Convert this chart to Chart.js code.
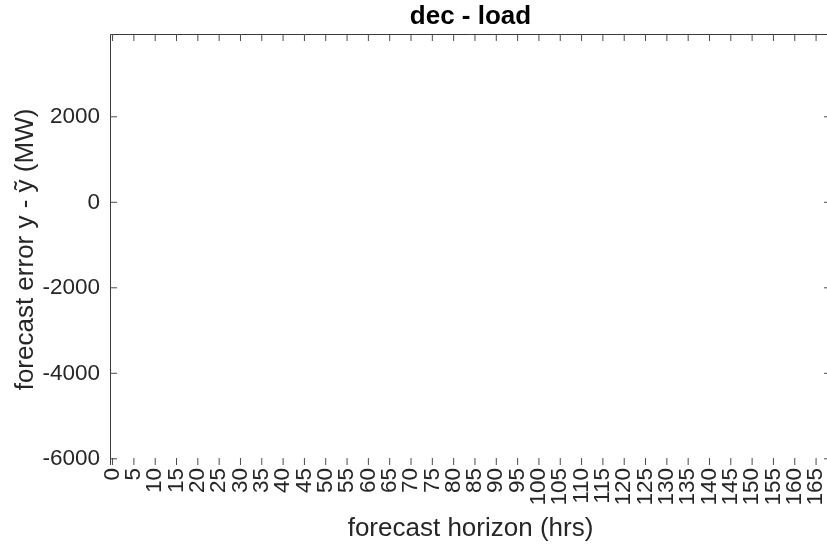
<!DOCTYPE html>
<html>
<head>
<meta charset="utf-8">
<title>dec - load</title>
<script src="https://cdn.jsdelivr.net/npm/chart.js@4.4.1/dist/chart.umd.min.js"></script>
<style>
  html, body { margin: 0; padding: 0; background: #ffffff; }
  #wrap { width: 827px; height: 544px; overflow: hidden; position: relative; }
  #chart { display: block; }
</style>
</head>
<body>
<div id="wrap"><canvas id="chart" width="831" height="544"></canvas></div>
<script>
// Forecast horizon (hours) and forecast error series: no samples plotted for this month.
const horizonHrs = [];
const forecastError = [];

// Axis tick positions
const xTickValues = [0, 5, 10, 15, 20, 25, 30, 35, 40, 45, 50, 55, 60, 65, 70, 75, 80,
  85, 90, 95, 100, 105, 110, 115, 120, 125, 130, 135, 140, 145, 150, 155, 160, 165];
const yTickValues = [-6000, -4000, -2000, 0, 2000];

// Axis limits
const xLimits = [-0.6, 168.5];
const yLimits = [-6145, 3937];

const FONT = "'Liberation Sans', Arial, Helvetica, sans-serif";
const AXIS_COLOR = '#262626';

// Box outline (left + top) and inward tick marks on all four sides
const boxTicks = {
  id: 'boxTicks',
  afterDraw(chart) {
    const { ctx, chartArea: a, scales } = chart;
    const len = 7;
    ctx.save();
    ctx.strokeStyle = '#3a3a3a';
    ctx.lineWidth = 1;
    ctx.beginPath();
    ctx.moveTo(a.left + 0.5, a.bottom);
    ctx.lineTo(a.left + 0.5, a.top + 0.5);
    ctx.lineTo(a.right, a.top + 0.5);
    ctx.stroke();
    ctx.strokeStyle = '#4a4a4a';
    ctx.beginPath();
    xTickValues.forEach(v => {
      const px = scales.x.getPixelForValue(v);
      ctx.moveTo(px, a.bottom);
      ctx.lineTo(px, a.bottom - len);
      ctx.moveTo(px, a.top);
      ctx.lineTo(px, a.top + len);
    });
    yTickValues.forEach(v => {
      const py = scales.y.getPixelForValue(v);
      ctx.moveTo(a.left, py);
      ctx.lineTo(a.left + len, py);
      ctx.moveTo(a.right, py);
      ctx.lineTo(a.right - len, py);
    });
    ctx.stroke();
    ctx.restore();
  }
};

new Chart(document.getElementById('chart'), {
  type: 'scatter',
  data: {
    datasets: [{
      label: 'forecast error',
      data: horizonHrs.map((h, i) => ({ x: h, y: forecastError[i] })),
      borderColor: '#0072bd',
      backgroundColor: '#0072bd',
      pointRadius: 2
    }]
  },
  options: {
    responsive: false,
    devicePixelRatio: 1,
    animation: false,
    layout: { padding: { left: 0, right: 0, top: 0, bottom: 0 } },
    plugins: {
      legend: { display: false },
      tooltip: { enabled: false },
      title: {
        display: true,
        text: 'dec - load',
        fullSize: false,
        color: '#000000',
        font: { family: FONT, size: 26, weight: 'bold' },
        padding: { top: 1.5, bottom: 1.3 }
      }
    },
    scales: {
      x: {
        type: 'linear',
        position: 'bottom',
        min: xLimits[0],
        max: xLimits[1],
        afterBuildTicks: s => { s.ticks = xTickValues.map(v => ({ value: v })); },
        afterFit: s => { s.height = 79; s.paddingLeft = 0; s.paddingRight = 0; },
        grid: { display: false, drawTicks: false },
        border: { display: false },
        ticks: {
          autoSkip: false,
          minRotation: 90,
          maxRotation: 90,
          padding: 3,
          color: AXIS_COLOR,
          font: { family: FONT, size: 22.5 },
          callback: v => String(v)
        },
        title: {
          display: true,
          text: 'forecast horizon (hrs)',
          color: AXIS_COLOR,
          font: { family: FONT, size: 26 },
          padding: { top: 0, bottom: 0 }
        }
      },
      y: {
        type: 'linear',
        position: 'left',
        min: yLimits[0],
        max: yLimits[1],
        afterBuildTicks: s => { s.ticks = yTickValues.map(v => ({ value: v })); },
        afterFit: s => { s.width = 110; s.paddingTop = 0; s.paddingBottom = 0; },
        grid: { display: false, drawTicks: false },
        border: { display: false },
        ticks: {
          padding: 10,
          color: AXIS_COLOR,
          font: { family: FONT, size: 22.5 },
          callback: v => String(v)
        },
        title: {
          display: true,
          text: 'forecast error y - ỹ (MW)',
          color: AXIS_COLOR,
          font: { family: FONT, size: 26 },
          padding: { top: 10, bottom: 0 }
        }
      }
    }
  },
  plugins: [boxTicks]
});
</script>
</body>
</html>
